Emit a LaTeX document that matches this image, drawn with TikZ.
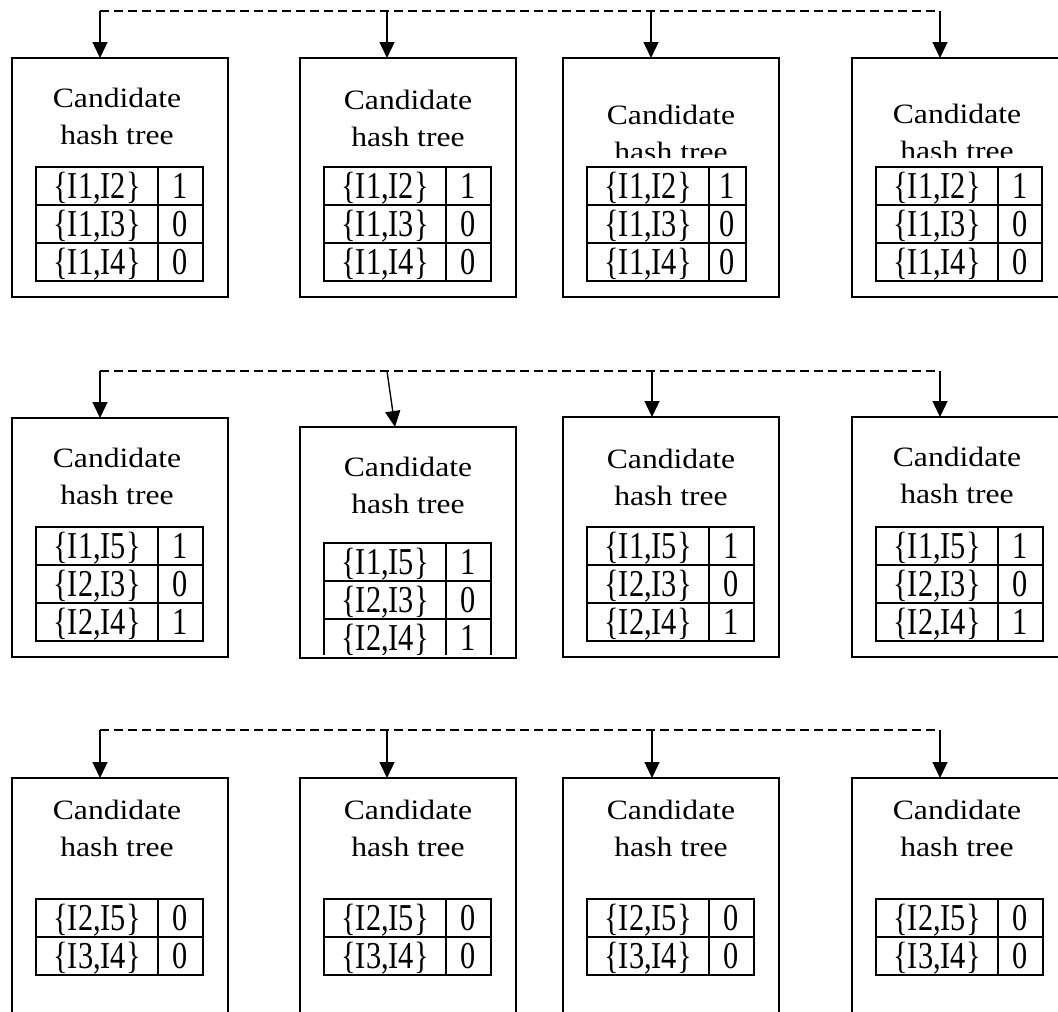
\documentclass[tikz,border=0pt]{standalone}
\usepackage{fontspec}
\setmainfont{Liberation Serif}
\newfontfamily\headfont{Liberation Serif}[FakeStretch=1.13]
\newfontfamily\cellfont{Liberation Serif}[FakeStretch=0.8]
\usetikzlibrary{arrows.meta}

\begin{document}
\begin{tikzpicture}[x=1pt,y=-1pt,
    treebox/.style={draw,line width=1.5pt,minimum width=216pt,inner sep=0pt,outer sep=0pt,anchor=north west},
    treehead/.style={align=center,inner sep=0pt,anchor=base,font=\headfont\fontsize{28}{37}\selectfont},
    pairset/.style={draw,line width=1.8pt,minimum width=122pt,minimum height=38pt,inner sep=0pt,outer sep=0pt,
        anchor=north west,text height=29pt,text depth=5pt,font=\cellfont\fontsize{38}{38}\selectfont},
    paircount/.style={pairset,minimum width=45pt},
    scanline/.style={line width=1.3pt,dash pattern=on 9pt off 5pt},
    feed/.style={line width=1.4pt,-{Triangle[length=16pt,width=15pt]}}]
        \useasboundingbox (0,0) rectangle (1058,1012);
        \clip (0,0) rectangle (1058,1012);

        %first pass: pairs with I1 (the node base is the "hash tree" line)
        \foreach \n/\l/\hx/\a/\hb/\hc/\rw in {1/12/117/100/144/300/45, 2/300/408/387/146/300/45,
                3/563/671/651/161/157/37, 4/852/957/940/160/157/44}{
            \node[treebox,minimum height=239pt] (b1\n) at (\l,58) {};
            \coordinate (d1\n) at (\a,11);
            \draw[feed] (d1\n) -- (d1\n |- b1\n.north);
            \begin{scope}
                \clip (\l,58) rectangle (\l+216,\hc);
                \node[treehead] (h1\n) at (\hx,\hb) {Candidate\\hash tree};
            \end{scope}
            \node[pairset] (s1\n-1) at (\l+24,167) {\{I1,I2\}};
            \node[paircount,minimum width=\rw pt] (c1\n-1) at (s1\n-1.north east) {1};
            \node[pairset] (s1\n-2) at (s1\n-1.south west) {\{I1,I3\}};
            \node[paircount,minimum width=\rw pt] (c1\n-2) at (s1\n-2.north east) {0};
            \node[pairset] (s1\n-3) at (s1\n-2.south west) {\{I1,I4\}};
            \node[paircount,minimum width=\rw pt] (c1\n-3) at (s1\n-3.north east) {0};
        }
        \draw[scanline] (d11) -- (d14);

        %second pass
        \foreach \n/\l/\hx/\a/\s/\t/\h/\hb/\tt/\tc in {1/12/117/100/0/418/239/504/527/700,
                2/300/408/387/8/427/231/513/543/654, 3/563/671/652/0/417/240/505/527/700,
                4/852/957/940/0/417/240/503/527/700}{
            \node[treebox,minimum height=\h pt] (b2\n) at (\l,\t) {};
            \coordinate (d2\n) at (\a,371);
            \draw[feed] (d2\n) -- ([xshift=\s pt]d2\n |- b2\n.north);
            \node[treehead] (h2\n) at (\hx,\hb) {Candidate\\hash tree};
            \begin{scope}
                \clip (\l,\tt-5) rectangle (\l+216,\tc);
                \node[pairset] (s2\n-1) at (\l+24,\tt) {\{I1,I5\}};
                \node[paircount] (c2\n-1) at (s2\n-1.north east) {1};
                \node[pairset] (s2\n-2) at (s2\n-1.south west) {\{I2,I3\}};
                \node[paircount] (c2\n-2) at (s2\n-2.north east) {0};
                \node[pairset] (s2\n-3) at (s2\n-2.south west) {\{I2,I4\}};
                \node[paircount] (c2\n-3) at (s2\n-3.north east) {1};
            \end{scope}
        }
        \draw[scanline] (d21) -- (d24);

        %third pass, boxes run past the bottom
        \foreach \n/\l/\hx/\a in {1/12/117/100, 2/300/408/387, 3/563/671/652, 4/852/957/940}{
            \node[treebox,minimum height=260pt] (b3\n) at (\l,778) {};
            \coordinate (d3\n) at (\a,730);
            \draw[feed] (d3\n) -- (d3\n |- b3\n.north);
            \node[treehead] (h3\n) at (\hx,856) {Candidate\\hash tree};
            \node[pairset] (s3\n-1) at (\l+24,899) {\{I2,I5\}};
            \node[paircount] (c3\n-1) at (s3\n-1.north east) {0};
            \node[pairset] (s3\n-2) at (s3\n-1.south west) {\{I3,I4\}};
            \node[paircount] (c3\n-2) at (s3\n-2.north east) {0};
        }
        \draw[scanline] (d31) -- (d34);
\end{tikzpicture}
\end{document}
